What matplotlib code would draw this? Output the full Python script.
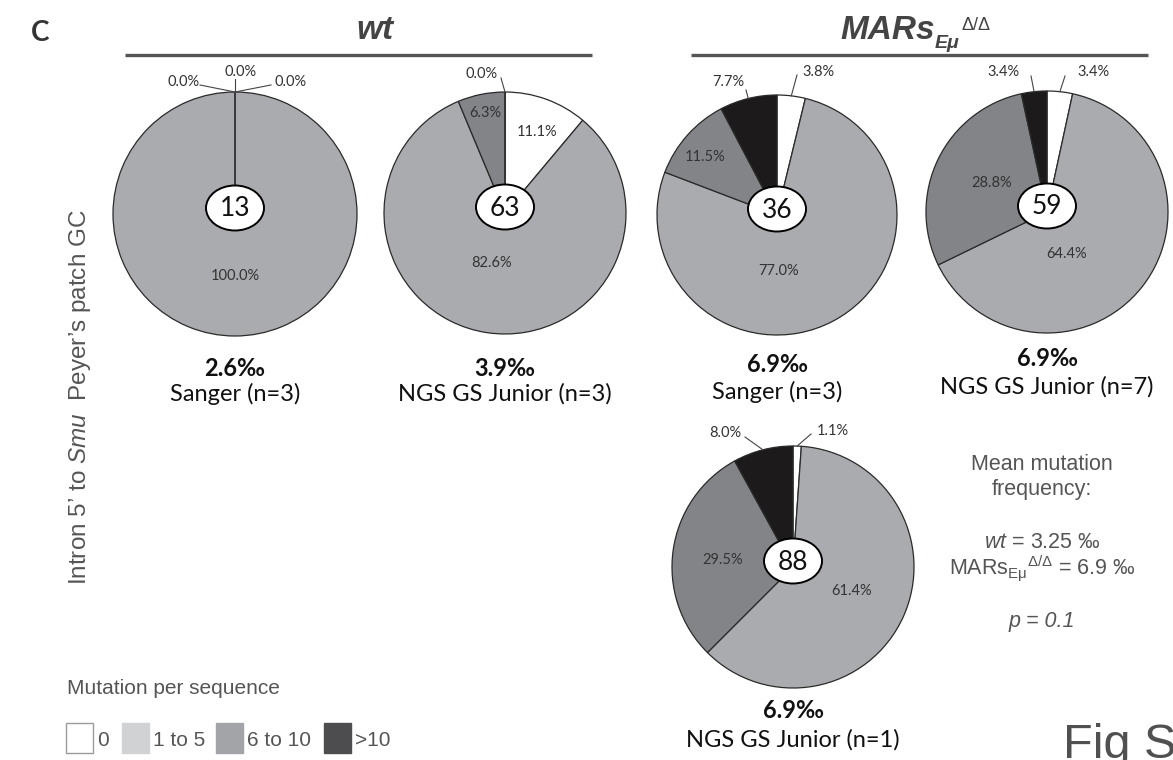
import numpy as np
import matplotlib.pyplot as plt
from matplotlib.patches import Ellipse, Rectangle

plt.rcParams.update({
    "mathtext.fontset": "custom",
    "mathtext.rm": "Liberation Sans",
    "mathtext.it": "Liberation Sans:italic",
    "mathtext.bf": "Liberation Sans:bold",
    "mathtext.bfit": "Liberation Sans:bold:italic",
})

# ======================
# DATA
# ======================
categories = ["0", "1 to 5", "6 to 10", ">10"]
wt_sanger = [0.0, 100.0, 0.0, 0.0]
wt_ngs = [11.1, 82.6, 6.3, 0.0]
mars_sanger = [3.8, 77.0, 11.5, 7.7]
mars_ngs7 = [3.4, 64.4, 28.8, 3.4]
mars_ngs1 = [1.1, 61.4, 29.5, 8.0]
seq_counts = [13, 63, 36, 59, 88]
mut_freq = [2.6, 3.9, 6.9, 6.9, 6.9]
methods = ["Sanger (n=3)", "NGS GS Junior (n=3)", "Sanger (n=3)",
           "NGS GS Junior (n=7)", "NGS GS Junior (n=1)"]

# ======================
# STYLE
# ======================
PIE_COLORS = ["#ffffff", "#a9abae", "#828487", "#1c1a1b"]
LEG_COLORS = ["#ffffff", "#d1d2d4", "#a3a4a7", "#4d4d4f"]
CAL = ["Lato", "DejaVu Sans"]
ARIAL = ["Liberation Sans", "DejaVu Sans"]
GREY_TXT = "#555555"

W, H = 1173, 760
fig = plt.figure(figsize=(W / 100, H / 100), dpi=100)
ax = fig.add_axes([0, 0, 1, 1])

# pixel layout: centre, radius, label offsets (dx, dy, leader end)
pies = [
    dict(vals=wt_sanger, c=(235, 214), r=122, ty=(368, 394),
         lab=[(56, -132, (36, -129)), (0, 62, None),
              (6, -142, (0, -135)), (-51, -132, (-35, -129))]),
    dict(vals=wt_ngs, c=(505, 213), r=121, ty=(368, 394),
         lab=[(32, -81, None), (-13, 50, None),
              (-20, -100, None), (-23, -139, (-4, -135))]),
    dict(vals=mars_sanger, c=(777, 215), r=120, ty=(364, 392),
         lab=[(41, -143, (20, -140)), (2, 56, None),
              (-72, -58, None), (-49, -133, (-31, -125))]),
    dict(vals=mars_ngs7, c=(1047, 212), r=121, ty=(359, 387),
         lab=[(46, -140, (18, -136)), (20, 42, None),
              (-55, -29, None), (-44, -140, (-16, -136))]),
    dict(vals=mars_ngs1, c=(793, 567), r=121, ty=(710, 740),
         lab=[(40, -136, (18, -133)), (59, 24, None),
              (-70, -7, None), (-68, -134, (-48, -130))]),
]

for i, p in enumerate(pies):
    cx, cy = p["c"]
    wedges, _ = ax.pie(p["vals"], colors=PIE_COLORS, center=(cx, cy),
                       radius=p["r"], startangle=-90, counterclock=True,
                       wedgeprops=dict(edgecolor="#2a2a2a", linewidth=0.9),
                       frame=True)
    for w, v, (dx, dy, lead) in zip(wedges, p["vals"], p["lab"]):
        ax.text(cx + dx, cy + dy, f"{v:.1f}%", ha="center", va="center",
                fontsize=10.5, color="#333333", family=CAL)
        if lead is not None:
            mid = np.deg2rad((w.theta1 + w.theta2) / 2)
            x0 = cx + p["r"] * np.cos(mid)
            y0 = cy + p["r"] * np.sin(mid)
            ax.plot([x0, cx + lead[0]], [y0, cy + lead[1]],
                    color="#444444", lw=0.8, zorder=5)
    ax.add_patch(Ellipse((cx, cy - 6), 58, 45, facecolor="white",
                         edgecolor="black", lw=1.4, zorder=6))
    ax.text(cx, cy - 5, str(seq_counts[i]), ha="center", va="center",
            fontsize=19, family=CAL, color="#111111", zorder=7)
    ax.text(cx, p["ty"][0], f"{mut_freq[i]}‰", ha="center", va="center",
            fontsize=17, fontweight="bold", family=CAL, color="#111111")
    ax.text(cx, p["ty"][1], methods[i], ha="center", va="center",
            fontsize=17, family=CAL, color="#111111")

# ======================
# HEADERS
# ======================
ax.text(40, 33, "C", ha="center", va="center", fontsize=20,
        fontweight="bold", family=CAL, color="#333333")
ax.plot([125, 592], [55, 55], color=GREY_TXT, lw=2.4, solid_capstyle="butt")
ax.plot([691, 1148], [55, 55], color=GREY_TXT, lw=2.4, solid_capstyle="butt")
ax.text(375, 39, "wt", ha="center", va="baseline", fontsize=24,
        fontweight="bold", fontstyle="italic", family=ARIAL, color="#444444")
ax.text(840, 39, "MARs", ha="left", va="baseline", fontsize=24,
        fontweight="bold", fontstyle="italic", family=ARIAL, color="#444444")
ax.text(935, 48, "Eμ", ha="left", va="baseline", fontsize=14,
        fontweight="bold", fontstyle="italic", family=ARIAL, color="#444444")
ax.text(962, 30, "Δ/Δ", ha="left", va="baseline", fontsize=13,
        family=ARIAL, color="#444444")

# side label
ax.text(80, 397, r"Intron 5’ to $\mathit{Smu}$  Peyer’s patch GC",
        rotation=90, ha="center", va="center", fontsize=17.5,
        family=ARIAL, color=GREY_TXT)

# ======================
# LEGEND
# ======================
ax.text(67, 688, "Mutation per sequence", ha="left", va="center",
        fontsize=15, family=ARIAL, color=GREY_TXT)
box_x = [66, 122, 216, 324]
for bx, col, cat in zip(box_x, LEG_COLORS, categories):
    ax.add_patch(Rectangle((bx, 723), 27, 30, facecolor=col,
                           edgecolor="#9a9a9a" if col == "#ffffff" else col,
                           lw=1))
    ax.text(bx + 31, 740, cat, ha="left", va="center", fontsize=15,
            family=ARIAL, color=GREY_TXT)

# ======================
# MEAN FREQUENCY BOX
# ======================
mx = 1042
ax.text(mx, 465, "Mean mutation", ha="center", va="center", fontsize=15.5,
        family=ARIAL, color=GREY_TXT)
ax.text(mx, 490, "frequency:", ha="center", va="center", fontsize=15.5,
        family=ARIAL, color=GREY_TXT)
ax.text(mx, 543, r"$\mathit{wt}$ = 3.25 ‰", ha="center", va="center",
        fontsize=15.5, family=ARIAL, color=GREY_TXT)
ax.text(mx, 568, r"MARs$_{\mathrm{Eμ}}$$^{\mathrm{Δ/Δ}}$ = 6.9 ‰",
        ha="center", va="center", fontsize=15.5, family=ARIAL, color=GREY_TXT)
ax.text(mx, 622, "p = 0.1", ha="center", va="center", fontsize=15.5,
        fontstyle="italic", family=ARIAL, color=GREY_TXT)

ax.text(1063, 758, "Fig S", ha="left", va="baseline", fontsize=35,
        family=ARIAL, color="#505050", clip_on=False)

ax.set_xlim(0, W)
ax.set_ylim(H, 0)
ax.set_aspect("equal")
ax.axis("off")

fig.savefig("out.png", dpi=100, facecolor="white")
